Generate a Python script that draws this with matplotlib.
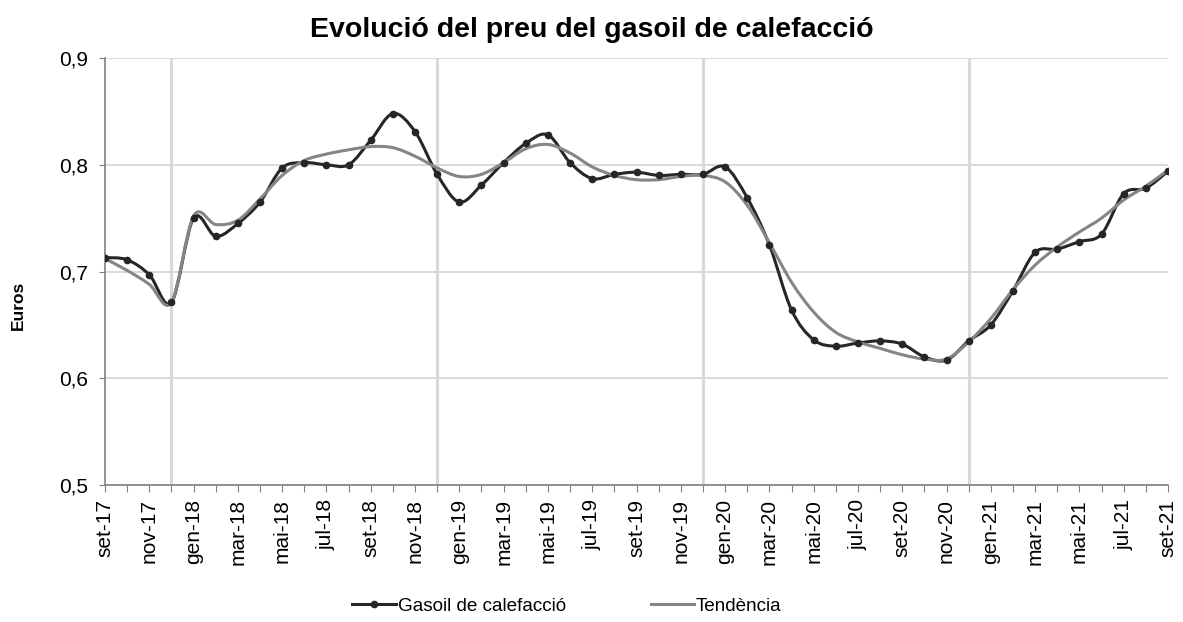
import numpy as np
import matplotlib
matplotlib.use('Agg')
import matplotlib.pyplot as plt
from matplotlib.path import Path
from matplotlib.patches import PathPatch
from matplotlib.lines import Line2D

plt.rcParams['font.family'] = ['Liberation Sans', 'DejaVu Sans']

# month labels, set-17 .. set-21
MONTHS = ['gen', 'feb', 'mar', 'abr', 'mai', 'jun', 'jul', 'ago', 'set', 'oct', 'nov', 'des']
labels = ['{}-{}'.format(MONTHS[(8 + i) % 12], 17 + (8 + i) // 12) for i in range(49)]

gasoil = [0.713, 0.711, 0.697, 0.671, 0.750, 0.733, 0.745, 0.765, 0.797, 0.802,
          0.800, 0.800, 0.823, 0.848, 0.831, 0.791, 0.765, 0.781, 0.802, 0.820,
          0.828, 0.802, 0.787, 0.791, 0.793, 0.790, 0.791, 0.791, 0.798, 0.769,
          0.725, 0.664, 0.636, 0.630, 0.633, 0.635, 0.632, 0.620, 0.617, 0.635,
          0.650, 0.682, 0.718, 0.721, 0.728, 0.735, 0.773, 0.778, 0.794]

tendencia = [0.712, 0.701, 0.688, 0.671, 0.752, 0.744, 0.748, 0.768, 0.790, 0.804,
             0.810, 0.814, 0.817, 0.816, 0.808, 0.797, 0.789, 0.791, 0.802, 0.815,
             0.819, 0.811, 0.798, 0.790, 0.786, 0.786, 0.789, 0.790, 0.784, 0.762,
             0.727, 0.690, 0.662, 0.643, 0.634, 0.628, 0.622, 0.618, 0.618, 0.634,
             0.656, 0.683, 0.706, 0.723, 0.737, 0.750, 0.767, 0.780, 0.795]

year_marks = [3, 15, 27, 39]  # des of each year


def smooth_path(x, y):
    # excel-style smoothed line: cubic bezier through every point
    pts = np.column_stack([x, y])
    n = len(pts)
    verts = [pts[0]]
    codes = [Path.MOVETO]
    for i in range(n - 1):
        p0 = pts[max(i - 1, 0)]
        p1 = pts[i]
        p2 = pts[i + 1]
        p3 = pts[min(i + 2, n - 1)]
        c1 = p1 + (p2 - p0) / 6
        c2 = p2 - (p3 - p1) / 6
        verts += [c1, c2, p2]
        codes += [Path.CURVE4] * 3
    return Path(verts, codes)


W, H = 1183, 622
fig = plt.figure(figsize=(W / 100, H / 100), dpi=100)
ax = fig.add_axes([105 / W, 1 - 485 / H, 1063 / W, 427 / H])

x = np.arange(len(gasoil))

ax.set_xlim(0, len(x) - 1)
ax.set_ylim(0.5, 0.9)
ax.set_yticks([0.5, 0.6, 0.7, 0.8, 0.9])
ax.set_yticklabels(['0,5', '0,6', '0,7', '0,8', '0,9'])
ax.yaxis.grid(True, color='#d9d9d9', linewidth=1.4)
ax.set_axisbelow(True)
for m in year_marks:
    ax.axvline(m, color='#d9d9d9', linewidth=2.2, zorder=0.5)

ax.add_patch(PathPatch(smooth_path(x, gasoil), fill=False, edgecolor='#262626',
                       linewidth=2.2, zorder=3, capstyle='round', joinstyle='round'))
ax.plot(x, gasoil, linestyle='none', marker='o', markersize=4.5, color='#262626', zorder=4)
ax.add_patch(PathPatch(smooth_path(x, tendencia), fill=False, edgecolor='#858585',
                       linewidth=2.2, zorder=3.5, capstyle='round', joinstyle='round'))

ax.set_xticks(x)
ax.set_xticklabels([lab if i % 2 == 0 else '' for i, lab in enumerate(labels)],
                   rotation=90, fontsize=15)
ax.tick_params(axis='x', length=5, color='#808080', pad=5)
ax.tick_params(axis='y', length=4.5, color='#808080', labelsize=15, pad=8)

for side in ['top', 'right']:
    ax.spines[side].set_visible(False)
for side in ['left', 'bottom']:
    ax.spines[side].set_color('#808080')
    ax.spines[side].set_linewidth(1.2)

fig.text(18.5 / W, 1 - 305 / H, 'Euros', rotation=90, ha='center', va='center',
         fontsize=12.5, fontweight='bold')
fig.text(592 / W, 1 - 30 / H, 'Evolució del preu del gasoil de calefacció',
         ha='center', va='center', fontsize=20.5, fontweight='bold')

handles = [Line2D([], [], color='#262626', linewidth=2.2, marker='o', markersize=4.5),
           Line2D([], [], color='#858585', linewidth=2.2)]
fig.legend(handles, ['Gasoil de calefacció', 'Tendència'], loc='center',
           bbox_to_anchor=(567 / W, 1 - 606 / H), ncol=2, frameon=False, fontsize=13.6,
           handlelength=2.3, handletextpad=0.1, columnspacing=4.5, numpoints=1)

fig.savefig('out.png', dpi=100)
